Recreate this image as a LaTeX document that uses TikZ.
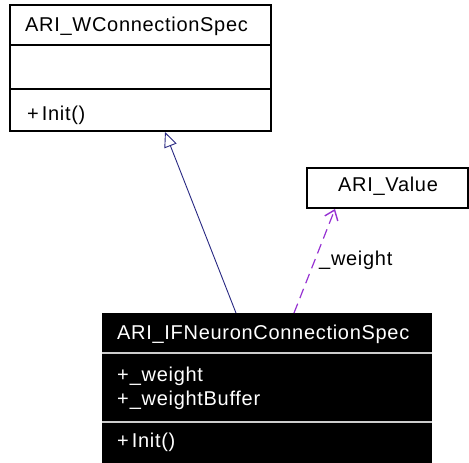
\documentclass[tikz,border=0pt]{standalone}
\usepackage{fontspec}
\setmainfont{Liberation Sans}[LetterSpace=3.5]
\usetikzlibrary{arrows.meta}
\definecolor{navy}{RGB}{40,40,130}
\definecolor{dep}{RGB}{150,50,210}
\tikzset{
  txt/.style={anchor=base west, inner sep=0pt, font=\fontsize{20bp}{23bp}\selectfont},
  wtxt/.style={txt, text=white},
  boxline/.style={draw=black, line width=1.3bp},
}
\begin{document}
\begin{tikzpicture}[x=1bp,y=-1bp]
\useasboundingbox (0,0) rectangle (469,463);
% ARI_WConnectionSpec
\draw[boxline, fill=white] (10,5) rectangle (271,131);
\draw[boxline] (10,45) -- (271,45);
\draw[boxline] (10,89) -- (271,89);
\node[txt] (wtitle) at (25,32) {ARI\_WConnectionSpec};
\node[txt] (winit) at (27,121) {+\hspace{3bp}Init()};
\coordinate (wtip) at (165,132);
% ARI_Value
\draw[boxline, fill=white] (307,168) rectangle (468,208);
\node[txt] (vtitle) at (338,192) {ARI\_Value};
\coordinate (vtip) at (335,209);
% ARI_IFNeuronConnectionSpec
\fill[black] (102,313) rectangle (432,463);
\draw[draw=black!20, line width=1.5bp] (102,353) -- (432,353);
\draw[draw=black!20, line width=1.5bp] (102,422) -- (432,422);
\node[wtxt] (ntitle) at (117,339) {ARI\_IFNeuronConnectionSpec};
\node[wtxt] (natt1) at (117,381) {+\hspace{1bp}\_weight};
\node[wtxt] (natt2) at (117,405) {+\hspace{1bp}\_weightBuffer};
\node[wtxt] (ninit) at (117,447) {+\hspace{3bp}Init()};
\coordinate (nsrc1) at (236,313);
\coordinate (nsrc2) at (294,313);
% generalization
\draw[navy, line width=0.9bp, -{Triangle[open, length=15bp, width=13bp, fill=white]}] (nsrc1) -- (wtip);
% dependency
\draw[dep, line width=1.2bp, dash pattern=on 10bp off 6bp, -{Straight Barb[length=9bp, width=14bp, line width=1.4bp]}] (nsrc2) -- (vtip);
\node[txt] (lbl) at (319,265) {\_weight};
\end{tikzpicture}
\end{document}
